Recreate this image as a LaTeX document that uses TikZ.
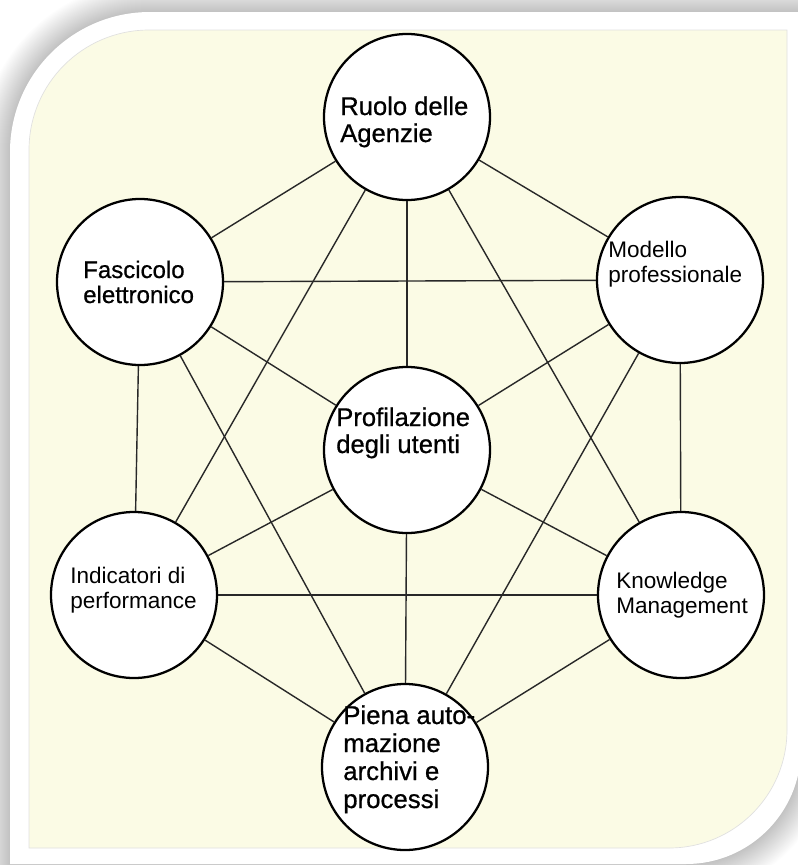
\documentclass[tikz,border=0pt]{standalone}
\usepackage{fontspec}
\setmainfont{Liberation Sans}
\newfontfamily\heavyfont{Liberation Sans}[FakeBold=0.7]
\definecolor{cream}{RGB}{251,251,229}
\definecolor{linkgray}{RGB}{40,40,40}
\begin{document}
\begin{tikzpicture}[x=0.75pt,y=-0.75pt,
  hub/.style={circle, draw=black, line width=1.7pt, fill=white,
    minimum size=124.5pt, inner sep=0pt},
  link/.style={draw=linkgray, line width=1.05pt},
  caption/.style={anchor=base west, align=left, inner sep=0pt, text=black},
  bigtext/.style={caption, font=\heavyfont\fontsize{19.2}{20.25}\selectfont},
  midtext/.style={caption, font=\heavyfont\fontsize{18}{18.75}\selectfont},
  smalltext/.style={caption, font=\fontsize{16.9}{18.75}\selectfont}]

\useasboundingbox (0,0) rectangle (798,865);
\fill[white] (0,0) rectangle (798,865);

% soft shadow around the white mat
\foreach \i in {1,...,30}
  \draw[black, opacity=0.0075, line width={\i*1.5pt}, line join=round]
    (10,152) arc[start angle=180,end angle=270,radius=140] -- (801,12)
    -- (801,749) arc[start angle=0,end angle=90,radius=115] -- (10,864) -- cycle;

% white mat
\fill[white]
  (10,152) arc[start angle=180,end angle=270,radius=140] -- (801,12)
  -- (801,749) arc[start angle=0,end angle=90,radius=115] -- (10,864) -- cycle;

% cream panel
\filldraw[fill=cream, draw=black!12, line width=0.5pt]
  (29,150) arc[start angle=180,end angle=270,radius=120] -- (787,30)
  -- (787,730) arc[start angle=0,end angle=90,radius=118] -- (29,848) -- cycle;

% circles
\node[hub] (R) at (407,117) {};
\node[hub] (F) at (140,282) {};
\node[hub] (M) at (680,280) {};
\node[hub] (P) at (407,450) {};
\node[hub] (I) at (134,595) {};
\node[hub] (K) at (681,595) {};
\node[hub] (A) at (405,767) {};

% connections
\foreach \u/\v in {R/F, R/M, F/I, M/K, I/A, K/A, F/M, I/K,
                   R/I, R/K, F/A, M/A,
                   P/R, P/F, P/M, P/I, P/K, P/A}
  \draw[link] (\u) -- (\v);

% captions (anchored at the baseline of the last line)
\node[bigtext]   (tR) at (340,142) {Ruolo delle\\Agenzie};
\node[midtext]   (tF) at (83,303)  {Fascicolo\\elettronico};
\node[smalltext] (tM) at (608,282) {Modello\\professionale};
\node[bigtext]   (tP) at (336,453) {Profilazione\\degli utenti};
\node[smalltext] (tI) at (70,608)  {Indicatori di\\performance};
\node[smalltext] (tK) at (616,613) {Knowledge\\Management};
\node[caption, font=\heavyfont\fontsize{19.35}{21}\selectfont]
                 (tA) at (343,808) {Piena auto-\\mazione\\archivi e\\processi};
\end{tikzpicture}
\end{document}
